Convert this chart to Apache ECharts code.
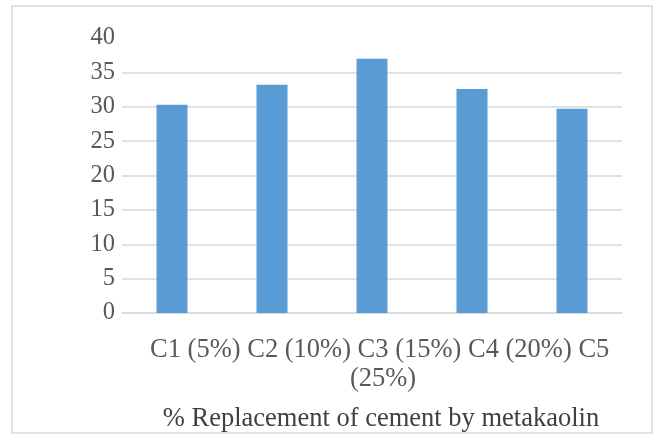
<!DOCTYPE html>
<html>
<head>
<meta charset="utf-8">
<script src="https://cdn.jsdelivr.net/npm/echarts@6/dist/echarts.min.js"></script>
<style>
  html, body { margin: 0; padding: 0; background: #ffffff; }
  #chart { width: 656px; height: 434px; }
</style>
</head>
<body>
<div id="chart"></div>
<script>
// Compressive strength by metakaolin replacement level
const categories = ['C1 (5%)', 'C2 (10%)', 'C3 (15%)', 'C4 (20%)', 'C5 (25%)'];
const strengthValues = [30.3, 33.2, 37.0, 32.6, 29.7];
const yTicks = { min: 0, max: 40, interval: 5 };
const axisTitle = '% Replacement of cement by metakaolin';

const serif = '"Liberation Serif", "Times New Roman", serif';
const chart = echarts.init(document.getElementById('chart'), null, { renderer: 'canvas' });

chart.setOption({
  animation: false,
  backgroundColor: '#ffffff',
  grid: { left: 122, right: 34, top: 38, bottom: 121, containLabel: false },
  xAxis: {
    type: 'category',
    data: categories,
    axisLine: { show: true, lineStyle: { color: '#d9d9d9', width: 1.5 } },
    axisTick: { show: false },
    axisLabel: { show: false },
    splitLine: { show: false }
  },
  yAxis: {
    type: 'value',
    min: yTicks.min,
    max: yTicks.max,
    interval: yTicks.interval,
    axisLine: { show: false },
    axisTick: { show: false },
    axisLabel: {
      margin: 7,
      color: '#595959',
      fontFamily: serif,
      fontSize: 24.5,
      padding: [6, 0, 0, 0]
    },
    splitLine: {
      show: true,
      showMaxLine: false,
      lineStyle: { color: '#d9d9d9', width: 1.5 }
    }
  },
  series: [{
    type: 'bar',
    data: strengthValues,
    barWidth: 31,
    itemStyle: { color: '#5b9bd5' }
  }],
  graphic: [
    {
      type: 'rect',
      shape: { x: 12, y: 6, width: 640, height: 427 },
      style: { fill: 'none', stroke: '#d9d9d9', lineWidth: 1.5 },
      silent: true
    },
    {
      // category names flow as one wrapped, centred block under the axis
      type: 'text',
      x: 383,
      y: 336,
      style: {
        text: categories.join(' '),
        width: 495,
        overflow: 'break',
        align: 'center',
        textAlign: 'center',
        verticalAlign: 'top',
        lineHeight: 29,
        font: '26.5px ' + serif,
        fill: '#595959'
      }
    },
    {
      type: 'text',
      x: 381,
      y: 406,
      style: {
        text: axisTitle,
        align: 'center',
        textAlign: 'center',
        verticalAlign: 'top',
        font: '26.5px ' + serif,
        fill: '#404040'
      }
    }
  ]
});
</script>
</body>
</html>
